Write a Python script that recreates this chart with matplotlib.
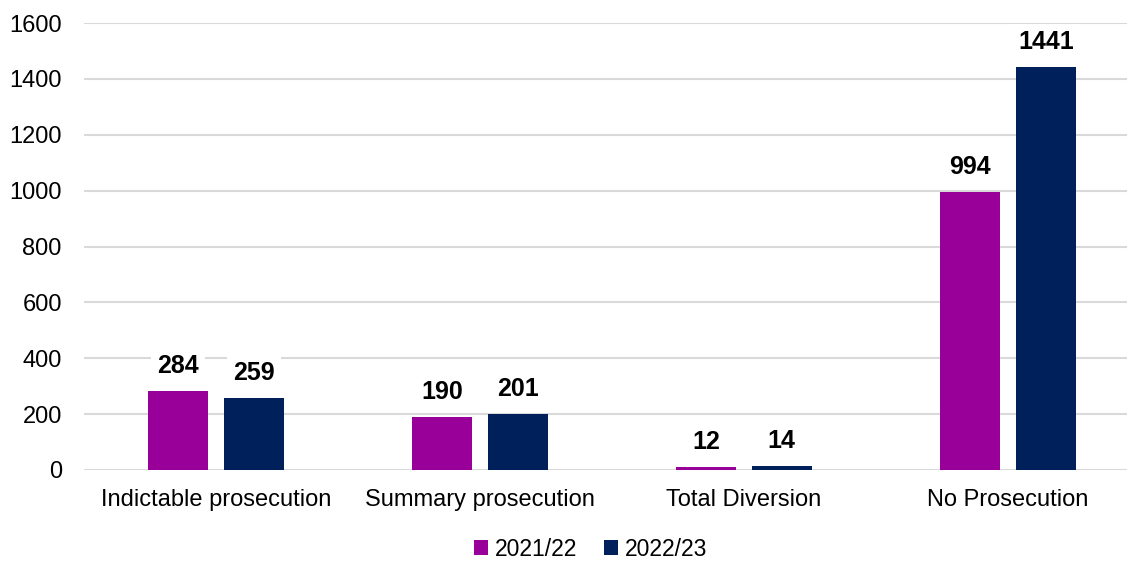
import matplotlib.pyplot as plt
import numpy as np

plt.rcParams['font.family'] = ['Liberation Sans', 'DejaVu Sans']

categories = ['Indictable prosecution', 'Summary prosecution', 'Total Diversion', 'No Prosecution']
years = ['2021/22', '2022/23']
vals_2122 = [284, 190, 12, 994]
vals_2223 = [259, 201, 14, 1441]
colors = ['#990099', '#00205B']

fig = plt.figure(figsize=(11.27, 5.62), dpi=100)
ax = fig.add_axes([84 / 1127, 92 / 562, 1056 / 1127, 447 / 562])

x = np.arange(len(categories))
w = 0.227
off = 0.143
for vals, lab, c, d in zip([vals_2122, vals_2223], years, colors, [-off, off]):
    bars = ax.bar(x + d, vals, w, color=c, label=lab, zorder=3)
    for b, v in zip(bars, vals):
        ax.annotate(str(v), (b.get_x() + b.get_width() / 2, v), xytext=(0, 18),
                    textcoords='offset points', ha='center', va='center',
                    fontsize=18, fontweight='bold',
                    bbox=dict(boxstyle='square,pad=0.25', fc='white', ec='none'), zorder=4)

ax.set_xlim(-0.5, 3.5)
ax.set_ylim(0, 1600)
ax.set_yticks(range(0, 1601, 200))
ax.set_xticks(x)
ax.set_xticklabels(categories)
ax.tick_params(axis='both', length=0, labelsize=17)
ax.tick_params(axis='y', pad=16)
ax.tick_params(axis='x', pad=14)
ax.grid(axis='y', color='#D9D9D9', linewidth=1.5, zorder=0)
for s in ax.spines.values():
    s.set_visible(False)

fig.legend(loc='lower center', bbox_to_anchor=(0.524, -0.03), ncol=2, frameon=False,
           fontsize=16.5, handlelength=0.6, handleheight=0.6, handletextpad=0.3,
           columnspacing=1.2, borderpad=0.3)

plt.savefig('out.png', dpi=100)
